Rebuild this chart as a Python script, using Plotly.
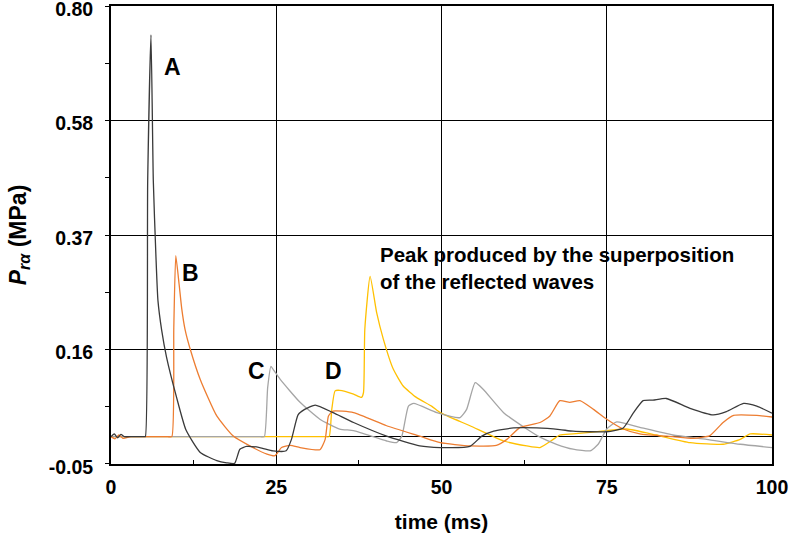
import plotly.graph_objects as go

# Series A (dark)
tA = [0, 0.5, 1.0, 1.5, 2.0, 3.0, 4.5, 5.0, 5.2, 5.55, 6.05, 6.4, 6.8, 7.1, 7.67, 8.4, 9.9, 11.35, 13.5, 16.0, 17.5, 18.7, 19.5, 20.5, 22.5, 24.5, 26.5, 27.3, 28.3, 29.3, 30.9, 33.6, 36.7, 41.7, 46.7, 49.8, 54.3, 56.1, 57.9, 60.9, 64.4, 67.9, 69.9, 75.0, 77.5, 79.0, 80.5, 82.0, 84.0, 87.6, 91.1, 93.1, 95.7, 97.7, 100.0]
vA = [0.0, 0.005, -0.002, 0.004, 0.0, 0.0, 0.0, 0.0, 0.0, 0.47, 0.737, 0.47, 0.33, 0.25, 0.195, 0.146, 0.073, 0.012, -0.029, -0.044, -0.048, -0.049, -0.023, -0.018, -0.02, -0.026, -0.026, -0.005, 0.04, 0.05, 0.058, 0.044, 0.026, 0.001, -0.017, -0.02, -0.018, 0.001, 0.01, 0.016, 0.016, 0.013, 0.01, 0.009, 0.016, 0.043, 0.066, 0.067, 0.07, 0.052, 0.04, 0.046, 0.061, 0.056, 0.043]

# Series B (orange)
tB = [0, 0.6, 1.2, 1.8, 3.0, 5.0, 7.0, 8.6, 9.2, 9.5, 9.8, 10.3, 10.7, 11.2, 12.0, 13.5, 16.0, 18.5, 21.0, 23.6, 24.8, 25.8, 27.1, 28.6, 31.6, 32.4, 32.9, 33.6, 36.7, 41.7, 46.7, 49.8, 54.3, 58.3, 59.9, 61.9, 64.9, 66.4, 67.9, 69.4, 70.95, 73.0, 75.0, 77.5, 80.0, 85.0, 88.1, 90.6, 92.6, 94.2, 97.7, 100.0]
vB = [0.0, -0.004, 0.003, -0.003, 0.0, 0.0, 0.0, 0.0, 0.0, 0.2, 0.332, 0.28, 0.235, 0.197, 0.16, 0.105, 0.038, 0.001, -0.017, -0.032, -0.035, -0.02, -0.016, -0.02, -0.024, -0.005, 0.038, 0.047, 0.044, 0.02, 0.001, -0.011, -0.017, -0.016, -0.005, 0.017, 0.026, 0.038, 0.066, 0.063, 0.066, 0.05, 0.032, 0.014, 0.005, 0.0, -0.003, 0.002, 0.026, 0.039, 0.039, 0.036]

# Series C (gray)
tC = [0, 5.0, 10.0, 15.0, 20.0, 22.6, 23.2, 23.7, 24.2, 24.6, 25.6, 28.6, 31.6, 34.6, 36.7, 41.7, 43.2, 44.0, 45.0, 45.8, 49.3, 52.8, 53.8, 55.1, 56.3, 59.4, 62.9, 64.9, 67.4, 69.9, 72.5, 73.7, 75.0, 76.5, 80.0, 85.0, 90.1, 95.2, 100.0]
vC = [0.0, 0.0, 0.0, 0.0, 0.0, 0.0, 0.0, 0.09, 0.129, 0.122, 0.105, 0.063, 0.032, 0.014, 0.011, -0.008, -0.011, 0.001, 0.056, 0.061, 0.044, 0.035, 0.05, 0.099, 0.087, 0.044, 0.014, -0.001, -0.014, -0.023, -0.026, -0.014, 0.014, 0.027, 0.017, 0.003, -0.005, -0.014, -0.02]

# Series D (yellow)
tD = [0, 5.0, 10.0, 15.0, 20.0, 25.0, 30.0, 32.4, 33.0, 33.4, 33.9, 34.6, 36.7, 37.9, 38.2, 38.4, 39.2, 40.2, 41.2, 42.7, 44.2, 46.2, 48.5, 49.8, 54.3, 59.4, 62.9, 64.9, 66.9, 67.9, 69.9, 75.0, 78.0, 82.5, 87.6, 92.6, 95.2, 96.7, 100.0]
vD = [0.0, 0.0, 0.0, 0.0, 0.0, 0.0, 0.0, 0.0, 0.0, 0.05, 0.084, 0.085, 0.078, 0.072, 0.081, 0.197, 0.294, 0.227, 0.179, 0.124, 0.093, 0.072, 0.056, 0.044, 0.02, -0.008, -0.017, -0.02, -0.005, 0.003, 0.005, 0.011, 0.014, 0.003, -0.011, -0.014, -0.005, 0.005, 0.003]

# drawn back to front
series = [("D", tD, vD, "#FFC000"), ("C", tC, vC, "#A5A5A5"), ("B", tB, vB, "#ED7D31"), ("A", tA, vA, "#3a3a3a")]

y_tickvals = [-0.05, 0.16, 0.37, 0.58, 0.79]
y_ticktext = ["-0.05", "0.16", "0.37", "0.58", "0.80"]
y_minor = [0.055, 0.265, 0.475, 0.685]
x_tickvals = [0, 25, 50, 75, 100]
x_minor = [12.5, 37.5, 62.5, 87.5]

fig = go.Figure()
for name, t, v, c in series:
    fig.add_trace(go.Scatter(x=t, y=v, mode="lines", name=name,
                             line=dict(color=c, width=1.3, shape="spline", smoothing=0.5),
                             showlegend=False))

font = "Liberation Sans, Arial, sans-serif"
labels = [("A", 9.23, 0.679), ("B", 12.03, 0.300), ("C", 22.04, 0.12), ("D", 33.6, 0.12)]
for txt, x, y in labels:
    fig.add_annotation(x=x, y=y, text="<b>%s</b>" % txt, showarrow=False,
                       xanchor="center", yanchor="middle",
                       font=dict(family=font, size=23, color="black"))
fig.add_annotation(x=40.4, y=0.31, text="<b>Peak produced by the superposition<br>of the reflected waves</b>",
                   showarrow=False, xanchor="left", yanchor="middle", align="left",
                   font=dict(family=font, size=20.5, color="black"))

fig.update_layout(
    width=790, height=544,
    margin=dict(l=111, r=18, t=6, b=80),
    paper_bgcolor="white", plot_bgcolor="white",
    font=dict(family=font, color="black"),
)
fig.update_xaxes(range=[0, 100], tickvals=x_tickvals, ticktext=["<b>%s</b>" % v for v in x_tickvals],
                 ticks="inside", ticklen=4, tickcolor="black", automargin=False,
                 minor=dict(tickvals=x_minor, ticks="inside", ticklen=4, tickcolor="black", showgrid=False),
                 showgrid=True, gridcolor="black", gridwidth=1,
                 showline=True, linecolor="black", linewidth=2, mirror=True,
                 zeroline=False, ticklabelstandoff=5, ticklabeloverflow="allow",
                 tickfont=dict(family=font, size=19.5, color="black"),
                 title=dict(text="<b>time (ms)</b>", font=dict(family=font, size=21, color="black"), standoff=17))
fig.update_yaxes(range=[-0.0502, 0.7902], tickvals=y_tickvals, ticktext=["<b>%s</b>" % s for s in y_ticktext],
                 ticks="outside", ticklen=4, tickcolor="black", automargin=False,
                 minor=dict(tickvals=y_minor, ticks="outside", ticklen=4, tickcolor="black", showgrid=False),
                 showgrid=True, gridcolor="black", gridwidth=1,
                 showline=True, linecolor="black", linewidth=2, mirror=True,
                 zeroline=True, zerolinecolor="black", zerolinewidth=1,
                 ticklabelstandoff=8, ticklabeloverflow="allow", ticklabelshift=3,
                 tickfont=dict(family=font, size=19.5, color="black"),
                 title=dict(text="<b><i>P</i><sub><i>rα</i></sub> (MPa)</b>", font=dict(family=font, size=23, color="black"), standoff=16))

fig.write_html("out.html", config={"displayModeBar": False},
               post_script="document.body.style.margin='0';document.body.style.overflow='hidden';")
